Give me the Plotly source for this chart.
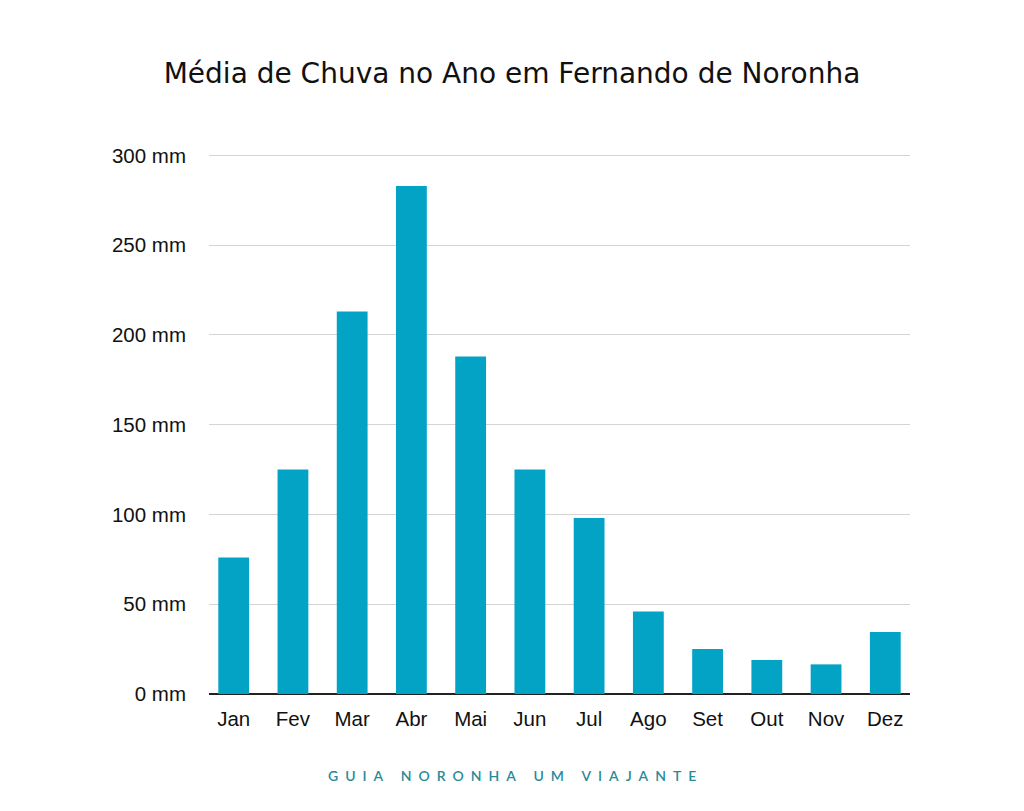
import plotly.graph_objects as go

meses = ["Jan", "Fev", "Mar", "Abr", "Mai", "Jun", "Jul", "Ago", "Set", "Out", "Nov", "Dez"]
chuva_mm = [76, 125, 213, 283, 188, 125, 98, 46, 25, 19, 16.5, 34.5]
y_ticks = [0, 50, 100, 150, 200, 250, 300]
y_tick_labels = [f"{v} mm" for v in y_ticks]

titulo = "Média de Chuva no Ano em Fernando de Noronha"
rodape = "GUIA NORONHA UM VIAJANTE"

# page body has an 8px default margin
OFF = 8
W, H = 1024 - OFF, 811 - OFF

fig = go.Figure(
    go.Bar(
        x=list(range(len(meses))),
        y=chuva_mm,
        marker=dict(color="#02A3C5", line=dict(width=0)),
        hoverinfo="y",
    )
)

spaced_footer = "\u2002 \u2002".join("\u2002".join(list(w)) for w in rodape.split(" "))

px_per_mm = (694 - 155) / 300
y_top = 303
L, R, B = 209 - OFF, 1024 - 910, 811 - 694
T = 155 - (y_top - 300) * px_per_mm - OFF
plot_w = W - L - R
plot_h = H - T - B

fig.update_layout(
    width=W,
    height=H,
    paper_bgcolor="white",
    plot_bgcolor="white",
    margin=dict(l=L, r=R, t=T, b=B),
    bargap=0.48,
    showlegend=False,
    title=dict(
        text=titulo,
        x=(512 - OFF) / W,
        xanchor="center",
        y=1 - (73 - OFF) / H,
        yanchor="middle",
        font=dict(family="DejaVu Sans", size=28, color="#111111"),
    ),
    xaxis=dict(
        tickmode="array",
        tickvals=list(range(len(meses))),
        ticktext=meses,
        range=[-0.417, 11.417],
        showgrid=False,
        showline=False,
        zeroline=False,
        ticks="",
        tickfont=dict(family="Liberation Sans, Arial", size=20.5, color="#111111"),
        ticklabelstandoff=10,
    ),
    yaxis=dict(
        range=[0, y_top],
        tickmode="array",
        tickvals=y_ticks,
        ticktext=y_tick_labels,
        showgrid=True,
        gridcolor="#D4D4D4",
        gridwidth=1.2,
        zeroline=True,
        zerolinecolor="#222222",
        zerolinewidth=2,
        showline=False,
        ticks="",
        tickfont=dict(family="Liberation Sans, Arial", size=20.5, color="#111111"),
        ticklabelstandoff=22,
    ),
    annotations=[
        dict(
            text=spaced_footer,
            x=(512 - 209) / plot_w,
            xref="paper",
            xanchor="center",
            y=-(776 - 694) / plot_h,
            yref="paper",
            yanchor="middle",
            showarrow=False,
            font=dict(family="Lato", size=14, color="#2A8A98", weight=600),
        )
    ],
)

fig.write_html("out.html")
